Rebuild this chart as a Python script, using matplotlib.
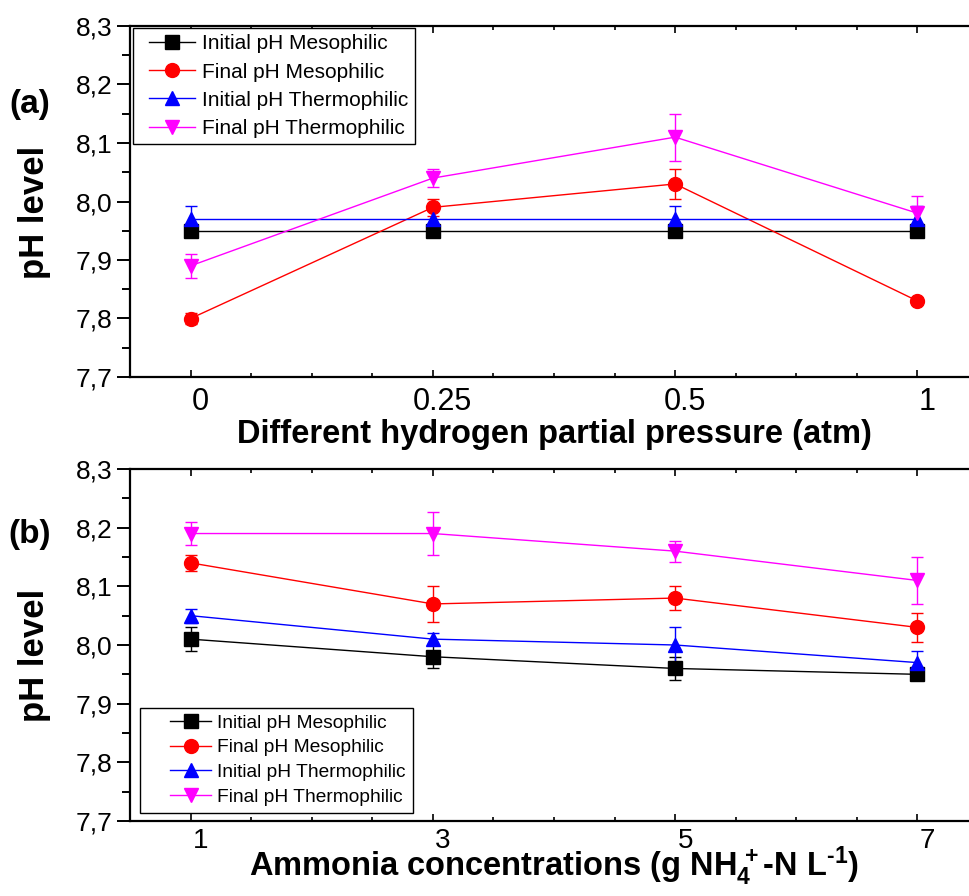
import numpy as np
import matplotlib
matplotlib.use("Agg")
import matplotlib.pyplot as plt
import matplotlib.transforms as mtransforms
from matplotlib.lines import Line2D
from matplotlib.legend_handler import HandlerLine2D
from matplotlib.ticker import FuncFormatter, MultipleLocator

plt.rcParams['font.family'] = ['Liberation Sans', 'DejaVu Sans']
plt.rcParams['mathtext.fontset'] = 'custom'
plt.rcParams['mathtext.rm'] = 'Liberation Sans:bold'
plt.rcParams['mathtext.it'] = 'Liberation Sans:bold'
plt.rcParams['mathtext.bf'] = 'Liberation Sans:bold'

# panel (a): hydrogen partial pressure
h2_labels = ['0', '0.25', '0.5', '1']
a_init_meso = [7.95, 7.95, 7.95, 7.95]
a_init_meso_err = [0.005, 0.005, 0.005, 0.005]
a_final_meso = [7.80, 7.99, 8.03, 7.83]
a_final_meso_err = [0.01, 0.015, 0.025, 0.005]
a_init_thermo = [7.97, 7.97, 7.97, 7.97]
a_init_thermo_err = [0.022, 0.02, 0.022, 0.022]
a_final_thermo = [7.89, 8.04, 8.11, 7.98]
a_final_thermo_err = [0.02, 0.015, 0.04, 0.03]

# panel (b): ammonia concentration
nh4_labels = ['1', '3', '5', '7']
b_init_meso = [8.01, 7.98, 7.96, 7.95]
b_init_meso_err = [0.02, 0.02, 0.02, 0.005]
b_final_meso = [8.14, 8.07, 8.08, 8.03]
b_final_meso_err = [0.014, 0.03, 0.021, 0.025]
b_init_thermo = [8.05, 8.01, 8.00, 7.97]
b_init_thermo_err = [0.012, 0.01, 0.03, 0.02]
b_final_thermo = [8.19, 8.19, 8.16, 8.11]
b_final_thermo_err = [0.02, 0.037, 0.018, 0.04]

names = ['Initial pH Mesophilic', 'Final pH Mesophilic',
         'Initial pH Thermophilic', 'Final pH Thermophilic']
colors = ['#000000', '#ff0000', '#0000ff', '#ff00ff']
markers = ['s', 'o', '^', 'v']


class IndentedLine(HandlerLine2D):
    # legend line that starts a bit right of the frame edge
    def __init__(self, indent, **kw):
        super().__init__(**kw)
        self.indent = indent

    def create_artists(self, legend, orig_handle, xdescent, ydescent,
                       width, height, fontsize, trans):
        return super().create_artists(legend, orig_handle,
                                      xdescent - self.indent, ydescent,
                                      width - self.indent, height,
                                      fontsize, trans)


fig = plt.figure(figsize=(9.69, 8.96), dpi=100)
ax1 = fig.add_axes([130/969, 1-377/896, 848/969, 351/896])
ax2 = fig.add_axes([130/969, 1-821/896, 848/969, 352/896])

comma = FuncFormatter(lambda v, p: ('%.1f' % v).replace('.', ','))


def draw(ax, labels, series, errs, lab_size, lab_drop, indent, legend_kw):
    x = np.arange(len(labels))
    for ys, es, c, m in zip(series, errs, colors, markers):
        ax.errorbar(x, ys, yerr=es, color=c, marker=m, markersize=10,
                    lw=1, elinewidth=1, capsize=4.3, capthick=1)
    ax.set_xlim(-0.25, 3.25)
    ax.set_ylim(7.7, 8.3)
    ax.set_xticks(x)
    ax.set_xticklabels([])
    off = mtransforms.ScaledTranslation(0.10, -lab_drop, fig.dpi_scale_trans)
    for xi, lab in zip(x, labels):
        ax.text(xi, 0, lab, fontsize=lab_size, ha='center', va='baseline',
                transform=ax.get_xaxis_transform() + off)
    ax.xaxis.set_minor_locator(MultipleLocator(0.25))
    ax.yaxis.set_major_locator(MultipleLocator(0.1))
    ax.yaxis.set_minor_locator(MultipleLocator(0.05))
    ax.yaxis.set_major_formatter(comma)
    for s in ax.spines.values():
        s.set_linewidth(1.6)
    ax.tick_params(axis='x', which='both', direction='in', top=True,
                   width=1.2)
    ax.tick_params(axis='x', which='major', length=5)
    ax.tick_params(axis='x', which='minor', length=3)
    ax.tick_params(axis='y', which='both', direction='out', labelsize=19,
                   width=1.4, pad=3)
    ax.tick_params(axis='y', which='major', length=9.4)
    ax.tick_params(axis='y', which='minor', length=5.8)
    ax.set_ylabel('pH level', fontsize=25, fontweight='bold', va='center')
    ax.yaxis.set_label_coords(-0.113, 0.47)
    handles = [Line2D([], [], color=c, marker=m, markersize=10, lw=1)
               for c, m in zip(colors, markers)]
    leg = ax.legend(handles, names, frameon=True, fancybox=False,
                    edgecolor='black', framealpha=1,
                    handler_map={Line2D: IndentedLine(indent)}, **legend_kw)
    leg.get_frame().set_linewidth(1.0)


draw(ax1, h2_labels,
     [a_init_meso, a_final_meso, a_init_thermo, a_final_thermo],
     [a_init_meso_err, a_final_meso_err, a_init_thermo_err, a_final_thermo_err],
     22, 0.33, 7.2,
     dict(loc='upper left', bbox_to_anchor=(0.0035, 0.994), fontsize=15,
          labelspacing=0.44, borderpad=0.3, handlelength=2.68,
          handletextpad=0.34, borderaxespad=0))
ax1.text(0.5, -0.188, 'Different hydrogen partial pressure (atm)',
         fontsize=23.5, fontweight='bold', ha='center', va='baseline',
         transform=ax1.transAxes)

draw(ax2, nh4_labels,
     [b_init_meso, b_final_meso, b_init_thermo, b_final_thermo],
     [b_init_meso_err, b_final_meso_err, b_init_thermo_err, b_final_thermo_err],
     20, 0.27, 16.5,
     dict(loc='lower left', bbox_to_anchor=(0.012, 0.024), fontsize=13.8,
          labelspacing=0.38, borderpad=0.35, handlelength=3.37,
          handletextpad=0.31, borderaxespad=0))
ax2.text(0.5, -0.156,
         'Ammonia concentrations (g NH$_4^{\\,+}$-N L$^{\u20101}$)',
         fontsize=23.5, fontweight='bold', ha='center', va='baseline',
         transform=ax2.transAxes)

fig.text(30/969, 1-105/896, '(a)', fontsize=24, fontweight='bold',
         ha='center', va='center')
fig.text(30/969, 1-535/896, '(b)', fontsize=24, fontweight='bold',
         ha='center', va='center')

fig.savefig('out.png', dpi=100)
